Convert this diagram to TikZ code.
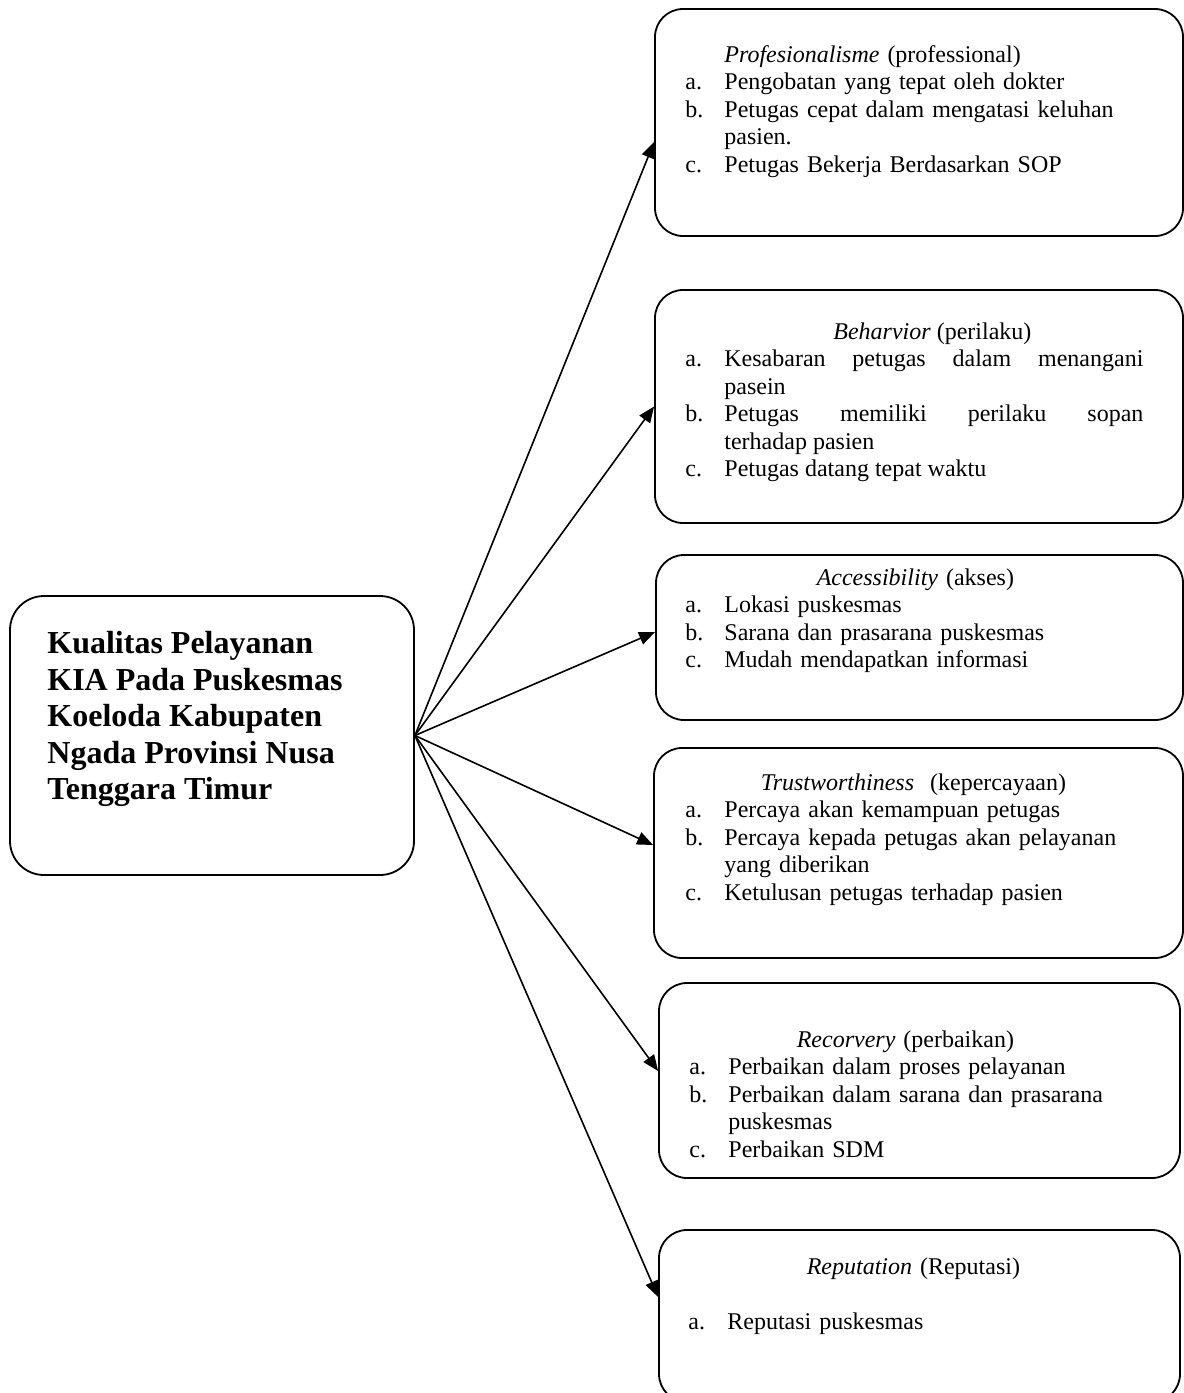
\documentclass[tikz,border=0pt]{standalone}
\usepackage{fontspec}
\setmainfont{Liberation Serif}
\usetikzlibrary{arrows.meta,calc}
\newcommand{\butir}[2]{\par\noindent\hangindent=19.5pt\hangafter=1\makebox[19.5pt][l]{#1}#2}
\newcommand{\judul}[2]{\noindent\makebox[\linewidth]{\hspace*{#1}#2}\par}
\begin{document}
\begin{tikzpicture}[x=0.5pt,y=-0.5pt,
	kotak/.style={draw, rounded corners=14pt, line width=0.9pt, inner sep=0pt},
	isi/.style={anchor=north west, inner sep=0pt, text width=236pt, align=left, font=\fontsize{12}{13.75}\selectfont},
	panah/.style={-{Triangle[length=8pt,width=6.5pt]}, line width=0.8pt}]
					\tikzstyle{every node}+=[inner sep=0pt]
					\useasboundingbox (0,0) rectangle (1184,1393);
					\node [kotak, rounded corners=17pt, minimum width=202pt, minimum height=139.5pt] (utama) at (212,735.5) {};
					\node [anchor=north west, align=left, font=\fontsize{16}{18.25}\selectfont\bfseries] (judulutama) at (47,631) {Kualitas Pelayanan\\KIA Pada Puskesmas\\Koeloda Kabupaten\\Ngada Provinsi Nusa\\Tenggara Timur};
					\node [kotak, minimum width=264pt, minimum height=113.5pt] (pro) at (919,122.5) {};
					\node [isi] (protxt) at (685,45) {\noindent\hspace*{19.5pt}\textit{Profesionalisme} (professional)\par
						\butir{a.}{Pengobatan yang tepat oleh dokter}
						\butir{b.}{Petugas cepat dalam mengatasi keluhan\newline pasien.}
						\butir{c.}{Petugas Bekerja Berdasarkan SOP}};
					\node [kotak, minimum width=264pt, minimum height=116.5pt] (per) at (919,406.5) {};
					\node [isi, text width=229pt, align=justify] (pertxt) at (685,322) {\judul{18pt}{\textit{Beharvior} (perilaku)}
						\butir{a.}{Kesabaran petugas dalam menangani\linebreak pasein}
						\butir{b.}{Petugas memiliki perilaku sopan\linebreak terhadap pasien}
						\butir{c.}{Petugas datang tepat waktu}};
					\node [kotak, minimum width=263.5pt, minimum height=82.5pt] (akses) at (919.5,637.5) {};
					\node [isi] (aksestxt) at (685,568) {\judul{-6pt}{\textit{Accessibility} (akses)}
						\butir{a.}{Lokasi puskesmas}
						\butir{b.}{Sarana dan prasarana puskesmas}
						\butir{c.}{Mudah mendapatkan informasi}};
					\node [kotak, minimum width=264.5pt, minimum height=105pt] (trust) at (918.5,853) {};
					\node [isi] (trusttxt) at (685,773) {\judul{-8pt}{\textit{Trustworthiness}\ \ (kepercayaan)}
						\butir{a.}{Percaya akan kemampuan petugas}
						\butir{b.}{Percaya kepada petugas akan pelayanan\newline yang diberikan}
						\butir{c.}{Ketulusan petugas terhadap pasien}};
					\node [kotak, minimum width=260.5pt, minimum height=97.5pt] (recov) at (919.5,1080.5) {};
					\node [isi] (recovtxt) at (689,1030) {\judul{-20pt}{\textit{Recorvery} (perbaikan)}
						\butir{a.}{Perbaikan dalam proses pelayanan}
						\butir{b.}{Perbaikan dalam sarana dan prasarana\newline puskesmas}
						\butir{c.}{Perbaikan SDM}};
					\node [kotak, minimum width=260.5pt, minimum height=86pt] (repu) at (919.5,1316) {};
					\node [isi] (reputxt) at (688,1257) {\judul{-11pt}{\textit{Reputation} (Reputasi)}
						\vspace{13.75pt}
						\butir{a.}{Reputasi puskesmas}};
					\draw [panah] (utama.east) -- ($(pro.west)+(0,19.5)$);
					\draw [panah] (utama.east) -- (per.west);
					\draw [panah] (utama.east) -- ($(akses.west)+(0,-5.5)$);
					\draw [panah] (utama.east) -- ($(trust.west)+(0,-8)$);
					\draw [panah] (utama.east) -- ($(recov.west)+(0,-9.5)$);
					\draw [panah] (utama.east) -- ($(repu.west)+(0,-19)$);
				\end{tikzpicture}
\end{document}
